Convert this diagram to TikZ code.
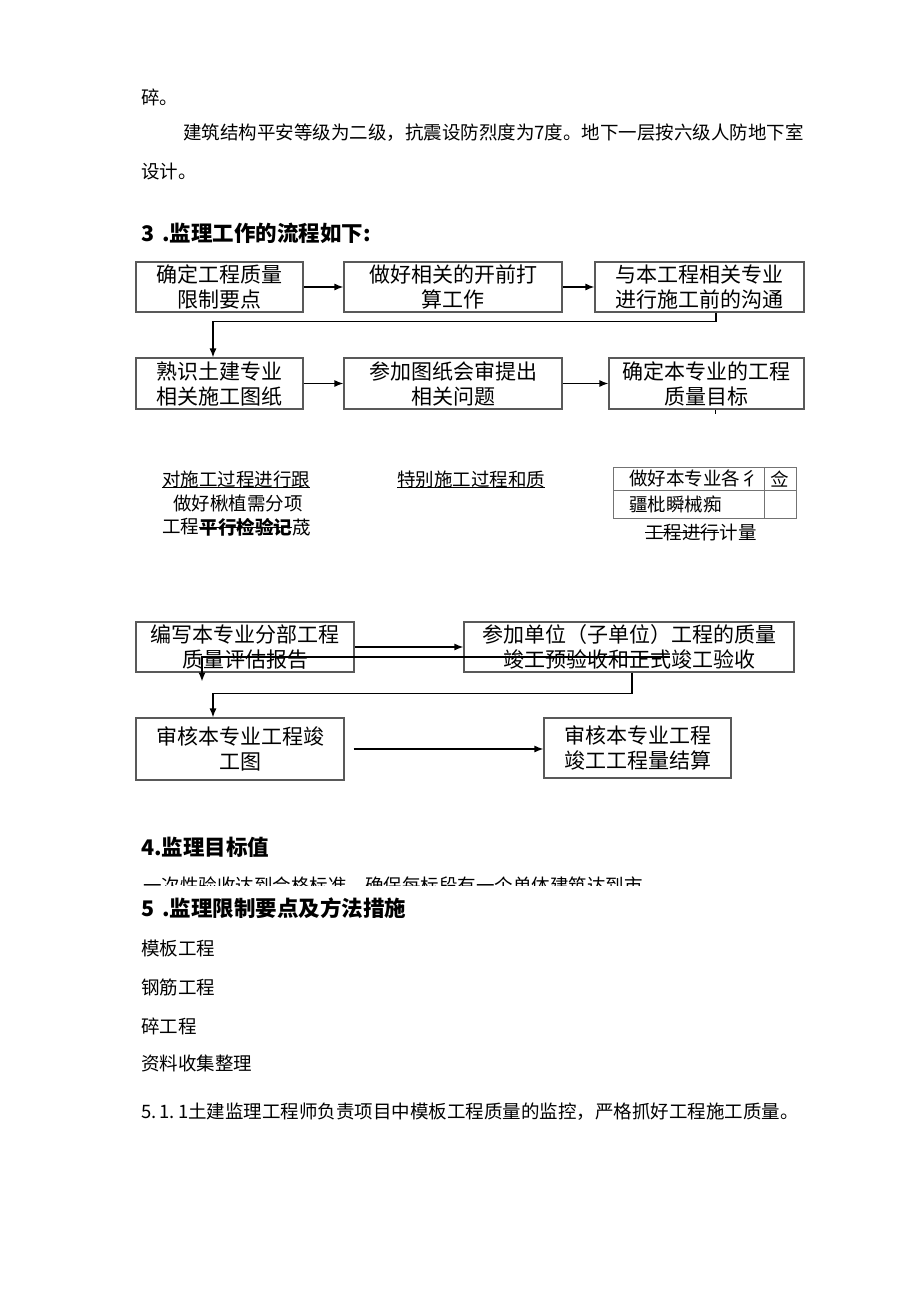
\documentclass[tikz,border=0pt]{standalone}
\usepackage{fontspec}
\newfontfamily\cjk{Noto Sans CJK SC}
\usetikzlibrary{arrows.meta,positioning}

\begin{document}
\begin{tikzpicture}[
  x=1pt, y=-1pt,
  >={Latex[length=9pt,width=7pt]},
  box/.style={draw=black!65, line width=1.1pt, rectangle, inner sep=0pt,
              align=center, font=\cjk\fontsize{21}{25}\selectfont},
  txt/.style={anchor=west, inner sep=0pt,
              font=\cjk\fontsize{18.5}{22}\selectfont},
  hd/.style={anchor=west, inner sep=0pt,
             font=\cjk\bfseries\fontsize{21.5}{26}\selectfont},
  cell/.style={draw=black!55, line width=0.8pt, rectangle, inner sep=0pt,
               anchor=north west},
  imp/.style={->, line width=1.4pt},
  rule/.style={line width=0.9pt}
]
\fill[white] (0,0) rectangle (920,1301);
\useasboundingbox (0,0) rectangle (920,1301);

%% ---- body text above the chart ----
\node[txt] (t1) at (141,97) {碎。};
\node[txt] (t2) at (183,133) {建筑结构平安等级为二级，抗震设防烈度为7度。地下一层按六级人防地下室};
\node[txt] (t3) at (141,172) {设计。};
\node[hd] (h3) at (141,233) {3\hspace{8pt}.监理工作的流程如下:};

%% ---- flow boxes, rows 1 and 2 ----
\node[box, minimum width=167pt, minimum height=50pt] (qual) at (219.5,287) {确定工程质量\\限制要点};
\node[box, minimum width=218pt, minimum height=50pt] (prep) at (453,287) {做好相关的开前打\\算工作};
\node[box, minimum width=209pt, minimum height=50pt] (comm) at (699.5,287) {与本工程相关专业\\进行施工前的沟通};
\node[box, minimum width=167pt, minimum height=51pt] (famil) at (219.5,383.5) {熟识土建专业\\相关施工图纸};
\node[box, minimum width=218pt, minimum height=51pt] (review) at (453,383.5) {参加图纸会审提出\\相关问题};
\node[box, minimum width=195pt, minimum height=51pt] (goal) at (706.5,383.5) {确定本专业的工程\\质量目标};

\draw[imp] (qual) -- (prep);
\draw[imp] (prep) -- (comm);
\draw[imp] ([xshift=16.5pt]comm.south) -- ++(0,9) -| ([xshift=-6.5pt]famil.north);
\draw[imp] (famil) -- (review);
\draw[imp] (review) -- (goal);
\coordinate (stub) at ([xshift=8.5pt,yshift=-4pt]goal.south);
\draw[line width=1pt] ([xshift=8.5pt]goal.south) -- (stub);

%% ---- loose middle texts ----
\node[txt] (track) at (162,479) {对施工过程进行跟};
\draw[rule] (track.south west) -- (track.south east);
\node[txt] (sub) at (173,503) {做好楸植需分项};
\node[txt] (chk1) at (162,527) {工程};
\node[txt, right=0pt of chk1, font=\cjk\bfseries\fontsize{18.5}{22}\selectfont] (chk2) {平行检验记};
\node[txt, right=0pt of chk2] (chk3) {荿};
\draw[rule] (chk2.west) -- (chk2.east);
\node[txt] (spec) at (397,479) {特别施工过程和质};
\draw[rule] (spec.south west) -- (spec.south east);

\node[cell, minimum width=151pt, minimum height=23pt] (c1) at (613,467) {};
\node[cell, minimum width=32pt, minimum height=23pt] (c2) at (764,467) {};
\node[cell, minimum width=151pt, minimum height=28pt] (c3) at (613,490) {};
\node[cell, minimum width=32pt, minimum height=28pt] (c4) at (764,490) {};
\node[txt] (c1t) at ([xshift=16pt]c1.west) {做好本专业各彳};
\node[txt] (c2t) at ([xshift=6pt]c2.west) {佥};
\node[txt] (c3t) at ([xshift=16pt]c3.west) {疆枇瞬械痴};
\node[txt] (meas1) at (645,532) {工程进行};
\node[txt, right=0pt of meas1] (meas2) {计量};
\draw[rule] (meas1.west) -- (meas1.east);

%% ---- flow boxes, rows 3 and 4 ----
\node[box, minimum width=218pt, minimum height=50pt] (report) at (245,647) {编写本专业分部工程\\质量评估报告};
\node[box, minimum width=330pt, minimum height=50pt] (accept) at (629,647) {参加单位（子单位）工程的质量\\竣工预验收和正式竣工验收};
\node[box, minimum width=208pt, minimum height=62pt] (audit) at (240,749) {审核本专业工程竣\\工图};
\node[box, minimum width=187pt, minimum height=60pt] (settle) at (637.5,748) {审核本专业工程\\竣工工程量结算};

\draw[imp] (report) -- (accept);
\draw[imp] ([xshift=41pt,yshift=-10pt]accept.center) -| ([xshift=-43pt,yshift=-9pt]report.south);
\draw[imp] ([xshift=3pt]accept.south) -- ++(0,21) -| ([xshift=-27pt]audit.north);
\draw[imp, shorten <=9pt] (audit.east) -- (audit.east -| settle.west);

%% ---- body text below the chart ----
\node[hd] (h4) at (141,847) {4.监理目标值};
\begin{scope}
  \clip (0,868) rectangle (920,885);
  \node[txt] (cut) at (143,886) {一次性验收达到合格标准，确保每标段有一个单体建筑达到市};
\end{scope}
\node[hd] (h5) at (141,908) {5\hspace{8pt}.监理限制要点及方法措施};
\node[txt] (l1) at (141,948) {模板工程};
\node[txt] (l2) at (141,987) {钢筋工程};
\node[txt] (l3) at (141,1026) {碎工程};
\node[txt] (l4) at (141,1063) {资料收集整理};
\node[txt] (l5) at (141,1112) {5.\,1.\,1土建监理工程师负责项目中模板工程质量的监控，严格抓好工程施工质量。};

\end{tikzpicture}
\end{document}
